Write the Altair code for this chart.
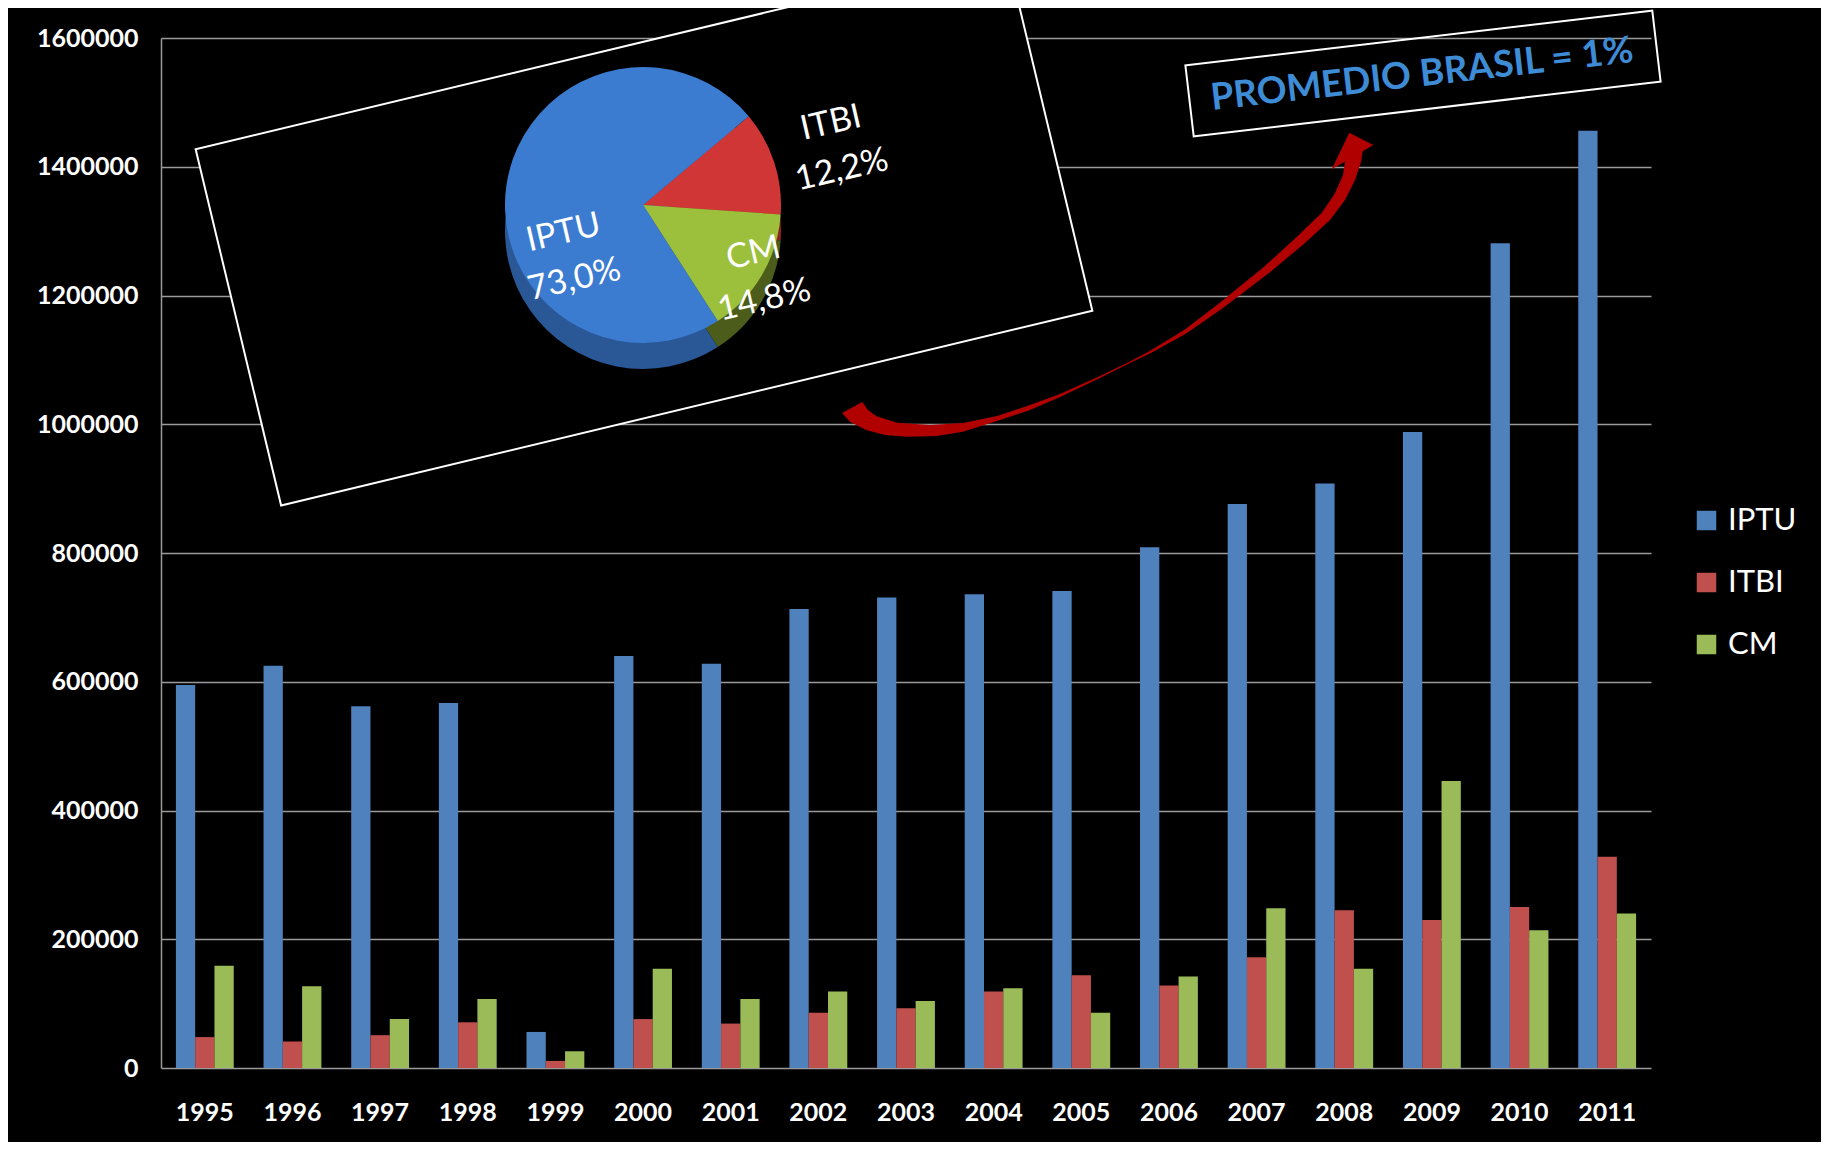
import math
import altair as alt
import pandas as pd

# ---------------- data ----------------
years = [str(y) for y in range(1995, 2012)]
iptu = [595000, 625000, 562000, 567000, 56000, 640000, 628000, 713000, 731000,
        736000, 741000, 809000, 876000, 908000, 988000, 1281000, 1456000]
itbi = [48000, 41000, 51000, 71000, 11000, 76000, 69000, 86000, 93000,
        119000, 144000, 128000, 172000, 245000, 230000, 250000, 328000]
cm = [159000, 127000, 76000, 107000, 26000, 154000, 107000, 119000, 104000,
      124000, 86000, 142000, 248000, 154000, 446000, 214000, 240000]
series = ["IPTU", "ITBI", "CM"]
y_ticks = [0, 200000, 400000, 600000, 800000, 1000000, 1200000, 1400000, 1600000]

pie_names = ["ITBI", "CM", "IPTU"]
pie_shares = [12.2, 14.8, 73.0]

promedio_text = "PROMEDIO BRASIL = 1%"

# ---------------- styles ----------------
bar_colors = ["#4F81BD", "#C0504D", "#9BBB59"]
pie_top_colors = ["#D03636", "#9DC03C", "#3B7BD0"]
pie_side_colors = ["#8E2222", "#4C5C1A", "#2A5796"]
grid_col = "#9a9a9a"
FONT = "Lato"

rows = []
for i, yr in enumerate(years):
    for s, vals in zip(series, [iptu, itbi, cm]):
        rows.append({"year": yr, "serie": s, "value": vals[i]})
df_bars = pd.DataFrame(rows)

pie_df = pd.DataFrame({
    "name": pie_names,
    "share": pie_shares,
    "ord": list(range(len(pie_names))),
})
pie_df["label"] = [n + "\n" + f"{s:.1f}".replace(".", ",") + "%" for n, s in zip(pie_names, pie_shares)]

one = pd.DataFrame({"k": [0]})

W, H = 1490, 1030

# ---------------- bars ----------------
bars = alt.Chart(df_bars).mark_bar().encode(
    x=alt.X("year:N", sort=years,
            scale=alt.Scale(paddingInner=0.34, paddingOuter=0.17),
            axis=alt.Axis(title=None, labelAngle=0, ticks=False, domain=False,
                          labelPadding=32, labelFont=FONT, labelFontSize=25,
                          labelFontWeight="bold", labelColor="white", grid=False)),
    xOffset=alt.XOffset("serie:N", sort=series,
                        scale=alt.Scale(domain=series, paddingInner=0, paddingOuter=0)),
    y=alt.Y("value:Q", scale=alt.Scale(domain=[0, 1600000], nice=False),
            axis=alt.Axis(values=y_ticks, format="d", title=None, ticks=False,
                          labelPadding=23, labelFont=FONT, labelFontSize=25,
                          labelFontWeight="bold", labelColor="white",
                          grid=True, gridColor=grid_col, gridWidth=1.5,
                          domainColor=grid_col, domainWidth=1.5)),
    color=alt.Color("serie:N", sort=series,
                    scale=alt.Scale(domain=series, range=bar_colors),
                    legend=alt.Legend(orient="none", legendX=1530, legendY=467,
                                      title=None, symbolType="square", symbolSize=380,
                                      symbolStrokeWidth=0, labelFont=FONT,
                                      labelFontSize=31, labelColor="white",
                                      rowPadding=30, labelOffset=6)),
)

# ---------------- inset frame ----------------
frame = alt.Chart(one).mark_point(
    shape="M -1 -0.439 L 1 -0.439 L 1 0.439 L -1 0.439 Z",
    filled=True, fill="black", stroke="white", strokeWidth=2,
    opacity=1, fillOpacity=1, angle=346.5,
).encode(x=alt.value(483), y=alt.value(192), size=alt.value(696000))

# ---------------- pie ----------------
start = math.radians(50)
theta_scale = alt.Scale(domain=[0, 100], range=[start, start + 2 * math.pi])
PCX, PCY, PR = 482, 167, 138

pie_base = alt.Chart(pie_df).encode(
    theta=alt.Theta("share:Q", stack=True, scale=theta_scale),
    order=alt.Order("ord:Q"),
)
pie_side = pie_base.mark_arc(radius=PR).encode(
    color=alt.Color("name:N", scale=alt.Scale(domain=pie_names, range=pie_side_colors), legend=None),
    x=alt.value(PCX), y=alt.value(PCY + 26),
)
pie_top = pie_base.mark_arc(radius=PR).encode(
    color=alt.Color("name:N", scale=alt.Scale(domain=pie_names, range=pie_top_colors), legend=None),
    x=alt.value(PCX), y=alt.value(PCY),
)

lab_base = alt.Chart(pie_df).transform_window(
    cum="sum(share)", sort=[alt.SortField("ord")]
).transform_calculate(mid="datum.cum - datum.share / 2")


def pie_label(name, r, **extra):
    return lab_base.transform_filter(alt.datum.name == name).mark_text(
        radius=r, angle=347, font=FONT, fontSize=34, color="white",
        lineBreak="\n", lineHeight=48, align="center", baseline="middle", **extra
    ).encode(
        theta=alt.Theta("mid:Q", scale=theta_scale),
        text="label:N",
        x=alt.value(PCX - 4), y=alt.value(PCY - 19),
    )


lab_itbi = pie_label("ITBI", 202)
lab_cm = pie_label("CM", 133)
lab_iptu = pie_label("IPTU", 89, thetaOffset=2 * math.pi - 0.709)

# ---------------- promedio box ----------------
box = alt.Chart(one).mark_point(
    shape="M -1 -0.152 L 1 -0.152 L 1 0.152 L -1 0.152 Z",
    filled=False, stroke="white", strokeWidth=2, opacity=1, angle=353.3,
).encode(x=alt.value(1262), y=alt.value(35.5), size=alt.value(221000))

prom = alt.Chart(pd.DataFrame({"t": [promedio_text]})).mark_text(
    angle=353.5, font=FONT, fontSize=37, fontWeight="bold", color="#3F8CD6",
    align="center", baseline="middle",
).encode(text="t:N", x=alt.value(1261), y=alt.value(37))

# ---------------- curved arrow (symbol outline, page-pixel shape) ----------------
AC = (1108, 285)   # shape centre
AH = 285           # half-span of the symbol box
outline = [
    # lower / right edge, tail to head
    (842, 413), (850, 421.7), (866, 430), (885, 435), (906.7, 436.7), (937, 436),
    (963, 431.7), (1000, 420), (1030, 410), (1060, 397), (1100, 378), (1130, 363),
    (1151, 353), (1187, 333), (1223, 308), (1269, 273), (1305, 243), (1330, 220),
    (1345, 200), (1355, 180), (1361, 162), (1362.7, 151.2),
    # head
    (1373.3, 145), (1349.3, 132.7), (1331.7, 169.3),
    # upper / left edge, head back to tail
    (1345, 161.5), (1343, 175), (1334.8, 193.6), (1322, 212.5), (1298.3, 235.6),
    (1264, 266.8), (1219.5, 303.1), (1184.9, 329.6), (1149.7, 350.9),
    (1130, 361.5), (1100, 376), (1060, 394), (1030, 405), (997, 416), (963, 423),
    (930, 425), (897, 422.7), (876, 416), (868, 410), (862.3, 402),
]
arrow_path = "M " + " L ".join(
    f"{(x - AC[0]) / AH:.4f} {(y - AC[1]) / AH:.4f}" for x, y in outline
) + " Z"

arrow = alt.Chart(one).mark_point(
    shape=arrow_path, filled=True, fill="#B00000", strokeWidth=0,
    opacity=1, fillOpacity=1,
).encode(x=alt.value(AC[0] - 161), y=alt.value(AC[1] - 38), size=alt.value((2 * AH) ** 2))

chart = alt.layer(
    bars, frame, pie_side, pie_top, lab_itbi, lab_cm, lab_iptu, box, prom, arrow
).resolve_scale(color="independent").properties(
    width=W, height=H,
    padding={"left": 153, "top": 30, "right": 170, "bottom": 74},
    autosize=alt.AutoSizeParams(type="none"),
    background="black",
).configure_view(strokeWidth=0)

chart.save("out.html", embed_options={"renderer": "svg", "actions": False})
